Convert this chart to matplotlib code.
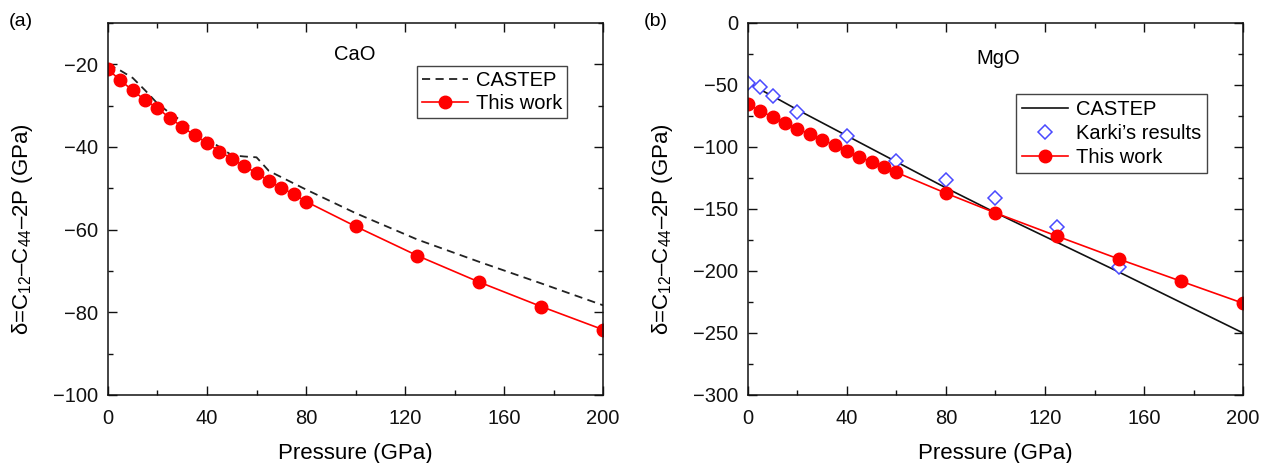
import matplotlib
matplotlib.use("Agg")
import matplotlib.pyplot as plt
from matplotlib.ticker import MultipleLocator

plt.rcParams['font.family'] = ['Liberation Sans', 'DejaVu Sans']
plt.rcParams['mathtext.fontset'] = 'custom'
plt.rcParams['mathtext.rm'] = 'Liberation Sans'
plt.rcParams['mathtext.it'] = 'Liberation Sans:italic'
plt.rcParams['axes.unicode_minus'] = True

# ---- CaO (panel a) ----
cao_p = [0, 5, 10, 15, 20, 25, 30, 35, 40, 45, 50, 55, 60, 65, 70, 75, 80, 100, 125, 150, 175, 200]
cao_this = [-21.2, -23.9, -26.3, -28.7, -30.6, -33.0, -35.1, -37.2, -39.0, -41.1, -42.8,
            -44.6, -46.3, -48.2, -49.9, -51.4, -53.2, -59.2, -66.3, -72.7, -78.6, -84.2]
cao_castep = [-20.0, -21.5, -23.3, -26.3, -29.5, -31.8, -33.8, -36.0, -38.0, -40.0, -42.0,
              -42.3, -42.5, -45.8, -47.3, -48.8, -50.3, -56.0, -62.4, -67.8, -73.0, -78.3]

# ---- MgO (panel b) ----
mgo_p = [0, 5, 10, 15, 20, 25, 30, 35, 40, 45, 50, 55, 60, 80, 100, 125, 150, 175, 200]
mgo_this = [-65.4, -71.0, -75.8, -80.5, -85.3, -89.8, -94.0, -98.7, -103.3, -108.0, -112.2,
            -116.3, -120.5, -137.3, -153.2, -172.0, -190.5, -208.3, -226.0]
mgo_castep_p = [0, 10, 20, 40, 60, 80, 100, 125, 150, 175, 200]
mgo_castep = [-48.5, -59.0, -70.0, -91.0, -112.0, -133.0, -153.0, -177.0, -201.0, -225.5, -250.0]
karki_p = [0, 5, 10, 20, 40, 60, 80, 100, 125, 150]
karki = [-48.5, -51.5, -58.5, -71.5, -91.5, -111.5, -126.5, -141.0, -164.5, -196.5]

ylabel = r'δ=C$_{\mathregular{12}}$–C$_{\mathregular{44}}$–2P (GPa)'

fig = plt.figure(figsize=(12.63, 4.63), dpi=100)
ax1 = fig.add_axes([0.0855, 0.1469, 0.392, 0.8035])
ax2 = fig.add_axes([0.5922, 0.1469, 0.392, 0.8035])

red = '#ff0000'

ax1.plot(cao_p, cao_castep, color='#222222', lw=1.3, dashes=(4.5, 3), label='CASTEP')
ax1.plot(cao_p, cao_this, color=red, lw=1.2, marker='o', ms=9, mfc=red, mec=red, label='This work')
ax1.set_xlim(0, 200)
ax1.set_ylim(-100, -10)
ax1.yaxis.set_major_locator(MultipleLocator(20))
ax1.yaxis.set_minor_locator(MultipleLocator(10))
ax1.text(0.499, 0.915, 'CaO', transform=ax1.transAxes, ha='center', va='center', fontsize=14.5)
leg1 = ax1.legend(loc='upper right', bbox_to_anchor=(0.928, 0.884), fontsize=14.5,
                  frameon=True, fancybox=False, borderaxespad=0, handlelength=2.3,
                  borderpad=0.25, labelspacing=0.2, handletextpad=0.4)

ax2.plot(mgo_castep_p, mgo_castep, color='#111111', lw=1.2, label='CASTEP')
ax2.plot(karki_p, karki, linestyle='none', marker='D', ms=6.8, mfc='white', mec='#4a4aff',
         mew=1.1, label="Karki’s results")
ax2.plot(mgo_p, mgo_this, color=red, lw=1.2, marker='o', ms=9, mfc=red, mec=red, label='This work')
ax2.set_xlim(0, 200)
ax2.set_ylim(-300, 0)
ax2.yaxis.set_major_locator(MultipleLocator(50))
ax2.yaxis.set_minor_locator(MultipleLocator(25))
ax2.text(0.506, 0.905, 'MgO', transform=ax2.transAxes, ha='center', va='center', fontsize=14.5)
leg2 = ax2.legend(loc='upper right', bbox_to_anchor=(0.928, 0.81), fontsize=14.5,
                  frameon=True, fancybox=False, borderaxespad=0, handlelength=2.3,
                  borderpad=0.3, labelspacing=0.25, handletextpad=0.4)

for ax in (ax1, ax2):
    ax.xaxis.set_major_locator(MultipleLocator(40))
    ax.xaxis.set_minor_locator(MultipleLocator(20))
    ax.tick_params(which='both', direction='in', top=True, right=True, width=1.0,
                   labelsize=14.5, colors='#111111')
    ax.tick_params(which='major', length=6.5)
    ax.tick_params(which='minor', length=3.5)
    ax.tick_params(axis='x', pad=10)
    ax.tick_params(axis='y', pad=7)
    for s in ax.spines.values():
        s.set_linewidth(1.1)
        s.set_color('#111111')
    ax.set_xlabel('Pressure (GPa)', fontsize=16, labelpad=11)
    ax.set_ylabel(ylabel, fontsize=16)
    ax.yaxis.set_label_coords(-0.148, 0.445)

for leg in (leg1, leg2):
    fr = leg.get_frame()
    fr.set_edgecolor('#444444')
    fr.set_linewidth(1.0)
    fr.set_alpha(1)

fig.text(21 / 1263, 1 - 22 / 463, '(a)', ha='center', va='center', fontsize=14)
fig.text(656 / 1263, 1 - 21 / 463, '(b)', ha='center', va='center', fontsize=14)

fig.savefig('out.png', dpi=100)
